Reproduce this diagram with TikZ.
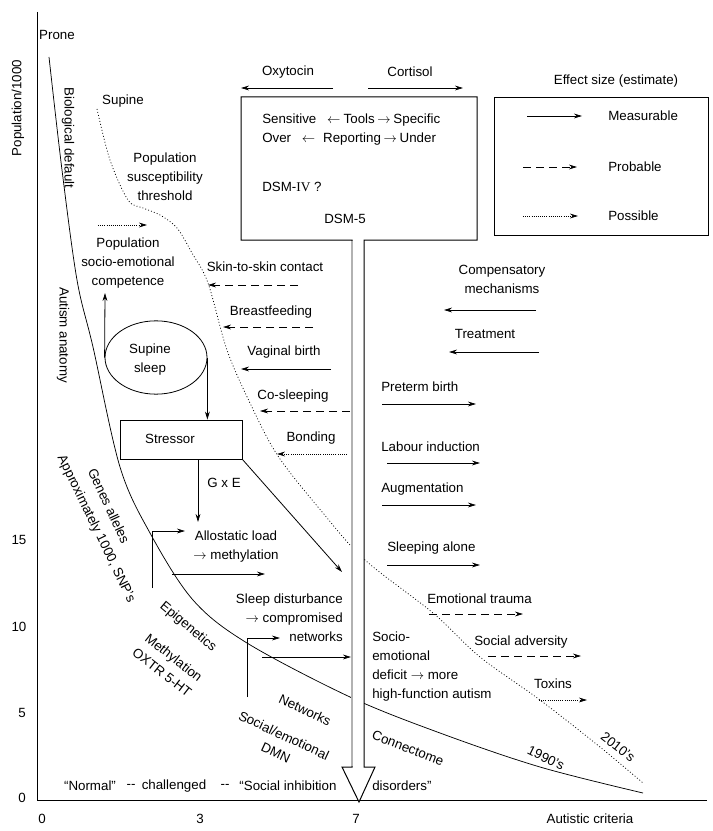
\documentclass[tikz,border=0pt]{standalone}
\usepackage{fontspec}
\setmainfont{Liberation Sans}
\newfontfamily\serifroman{Liberation Serif}
\usetikzlibrary{arrows.meta,shapes.geometric}
\newcommand{\ra}{$\rightarrow$}
\newcommand{\la}{$\leftarrow$}
\begin{document}
\begin{tikzpicture}[x=0.75pt,y=-0.75pt,
  font=\fontsize{10pt}{14.25pt}\selectfont,
  lbl/.style={inner sep=0pt, align=center},
  lw/.style={anchor=west, inner sep=0pt, align=left},
  ln/.style={line width=0.6pt},
  arr/.style={ln, -{Stealth[length=6pt,width=3.6pt]}},
  dsh/.style={arr, dash pattern=on 6pt off 3.75pt},
  dtt/.style={arr, dash pattern=on 0.7pt off 0.9pt},
  curve/.style={line width=0.55pt},
  dcurve/.style={line width=0.55pt, dash pattern=on 0.7pt off 1.6pt}]
\useasboundingbox (0,0) rectangle (713,831);

% axes
\coordinate (ytop) at (37,12);
\coordinate (orig) at (37,800);
\coordinate (xend) at (707,800);
\draw[line width=0.75pt] (ytop) -- (orig) -- (xend);

% curves
\draw[curve] plot[smooth, tension=0.55] coordinates {(49,57) (62,170) (77,280) (93,347) (120,467) (150,533) (193,600) (247,643) (350,697) (440,733) (540,767) (643,793)};
\draw[dcurve] plot[smooth, tension=0.55] coordinates {(97,109) (110,160) (128,200) (143,208) (160,215) (177,228) (192,253) (208,283) (227,350) (250,403) (278,456) (323,513) (365,560) (433,613) (480,657) (540,700) (600,747) (643,783)};

% big box with downward arrow
\draw[line width=0.75pt, fill=white] (241,97) -- (477,97) -- (477,240) -- (364,240) -- (364,767) -- (375,767) -- (359,802) -- (342,767) -- (352,767) -- (352,240) -- (241,240) -- cycle;
\draw[gray!60, line width=1.6pt] (352,241) -- (352,766);

% axis labels
\node[lbl] (prone) at (57,35) {Prone};
\node[lbl, rotate=90] (ylab) at (18,108) {Population/1000};
\node[lbl] (x0) at (42,819) {0};
\node[lbl] (x3) at (200,819) {3};
\node[lbl] (x7) at (356,819) {7};
\node[lbl] (xlab) at (590,819) {Autistic criteria};
\node[lbl] (y15) at (19,540) {15};
\node[lbl] (y10) at (19,627) {10};
\node[lbl] (y5) at (22,713) {5};
\node[lbl] (y0) at (22,798) {0};

% top box content
\node[lbl] (oxy) at (288,72) {Oxytocin};
\node[lbl] (cort) at (410,72) {Cortisol};
\coordinate (oxyA) at (333,88); \coordinate (oxyB) at (241,88);
\coordinate (cortA) at (368,88); \coordinate (cortB) at (463,88);
\draw[arr] (oxyA) -- (oxyB);
\draw[arr] (cortA) -- (cortB);
\node[lw] (tools) at (262,120) {Sensitive\hspace{0.8em}\la\hspace{0.25em}Tools\hspace{0.2em}\ra\hspace{0.2em}Specific};
\node[lw] (report) at (262,139) {Over\hspace{0.8em}\la\hspace{0.6em}Reporting\hspace{0.2em}\ra\hspace{0.2em}Under};
\node[lw] (dsm4) at (262,187) {DSM-{\serifroman IV} ?};
\node[lbl] (dsm5) at (345,219) {DSM-5};

% legend
\node[lbl] (efftitle) at (616,81) {Effect size (estimate)};
\draw[line width=0.75pt] (494,98) rectangle (708,235);
\coordinate (lgA1) at (527,116); \coordinate (lgB1) at (582,116);
\coordinate (lgA2) at (523,167); \coordinate (lgB2) at (577,167);
\coordinate (lgA3) at (523,216); \coordinate (lgB3) at (578,216);
\draw[arr] (lgA1) -- (lgB1);
\draw[dsh] (lgA2) -- (lgB2);
\draw[dtt] (lgA3) -- (lgB3);
\node[lw] (meas) at (608,116) {Measurable};
\node[lw] (prob) at (608,167) {Probable};
\node[lw] (poss) at (608,216) {Possible};

% left labels
\node[lbl, rotate=-90] (biodef) at (68,138) {Biological default};
\node[lbl, rotate=-90] (autanat) at (63,335) {Autism anatomy};
\node[lbl, rotate=-65] (genes) at (109,506) {Genes alleles};
\node[lbl, rotate=-64] (approx) at (96,529) {Approximately 1000, SNP's};
\node[lbl] (supine) at (123,101) {Supine};
\node[lbl] (thresh) at (165,177) {Population\\susceptibility\\threshold};
\coordinate (popA) at (98,225); \coordinate (popB) at (147,225);
\draw[dtt] (popA) -- (popB);
\node[lbl] (compet) at (128,263) {Population\\socio-emotional\\competence};

% supine sleep and stressor
\node[draw, ln, ellipse, minimum width=76.5pt, minimum height=55pt, inner sep=0pt] (sleep) at (156,357.5) {};
\node[lbl] (sleeptxt) at (150,360) {Supine\\sleep};
\coordinate (compTop) at (105,293);
\draw[arr] (sleep.west) -- (compTop);
\node[draw, ln, minimum width=91.5pt, minimum height=29.25pt, inner sep=0pt] (stressor) at (181,439.5) {};
\node[lbl] (stresstxt) at (170,439) {Stressor};
\draw[arr] (sleep.east) -- (sleep.east |- stressor.north);
\coordinate (gxe) at (198,522);
\draw[arr] (gxe |- stressor.south) -- (gxe);
\node[lbl] (gxetxt) at (224,483) {G x E};
\coordinate (diagEnd) at (342,572);
\draw[arr] (stressor.south east) -- (diagEnd);

\node[lbl] (allo) at (236,546.5) {Allostatic load\\\ra\ methylation};
\coordinate (e1a) at (152,588); \coordinate (e1b) at (185,531);
\draw[arr] (e1a) |- (e1b);
\coordinate (s1a) at (172,574); \coordinate (s1b) at (265,574);
\draw[arr] (s1a) -- (s1b);

\node[anchor=east, inner sep=0pt, align=right] (sleepdist) at (343,618) {Sleep disturbance\\\ra\ compromised\\networks};
\coordinate (e2a) at (247,697); \coordinate (e2b) at (280,638);
\draw[arr] (e2a) |- (e2b);
\coordinate (s2a) at (262,657); \coordinate (s2b) at (351,657);
\draw[arr] (s2a) -- (s2b);

\node[lbl, rotate=-40] (epi) at (188,627) {Epigenetics};
\node[lbl, rotate=-38] (methyl) at (168,665) {Methylation\\OXTR 5-HT};
\node[lbl, rotate=-25] (netw) at (305,710) {Networks};
\node[lbl, rotate=-25] (socdmn) at (280,744) {Social/emotional\\DMN};

% bottom line
\node[lbl] (normal) at (90,786) {“Normal”};
\node[lbl] (dash1) at (131,786) {-{}-};
\node[lbl] (chall) at (174,786) {challenged};
\node[lbl] (dash2) at (225,786) {-{}-};
\node[lbl] (socinh) at (288,786) {“Social inhibition};
\node[lw] (disord) at (372,786) {disorders”};

% protective factors (left-pointing)
\node[lbl] (skin) at (265,267) {Skin-to-skin contact};
\coordinate (skinA) at (298,285); \coordinate (skinB) at (208,285);
\draw[dsh] (skinA) -- (skinB);
\node[lbl] (breast) at (271,312) {Breastfeeding};
\coordinate (brA) at (313,327); \coordinate (brB) at (223,327);
\draw[dsh] (brA) -- (brB);
\node[lbl] (vag) at (284,352) {Vaginal birth};
\coordinate (vgA) at (331,369); \coordinate (vgB) at (241,369);
\draw[arr] (vgA) -- (vgB);
\node[lbl] (cosl) at (293,396) {Co-sleeping};
\coordinate (csA) at (350,411); \coordinate (csB) at (260,411);
\draw[dsh] (csA) -- (csB);
\node[lbl] (bond) at (311,438) {Bonding};
\coordinate (bdA) at (347,454); \coordinate (bdB) at (277,454);
\draw[dtt] (bdA) -- (bdB);

% right side
\node[lbl] (compens) at (502,279) {Compensatory\\mechanisms};
\coordinate (cmA) at (536,310); \coordinate (cmB) at (444,310);
\draw[arr] (cmA) -- (cmB);
\node[lbl] (treat) at (485,334) {Treatment};
\coordinate (trA) at (539,352); \coordinate (trB) at (449,352);
\draw[arr] (trA) -- (trB);
\node[lw] (preterm) at (381,387) {Preterm birth};
\coordinate (ptA) at (382,404); \coordinate (ptB) at (476,404);
\draw[arr] (ptA) -- (ptB);
\node[lw] (labour) at (381,447) {Labour induction};
\coordinate (lbA) at (387,463); \coordinate (lbB) at (480,463);
\draw[arr] (lbA) -- (lbB);
\node[lw] (augm) at (381,489) {Augmentation};
\coordinate (agA) at (382,505); \coordinate (agB) at (476,505);
\draw[arr] (agA) -- (agB);
\node[lw] (alone) at (387,548) {Sleeping alone};
\coordinate (slA) at (387,565); \coordinate (slB) at (480,565);
\draw[arr] (slA) -- (slB);
\node[lw] (emot) at (427,599) {Emotional trauma};
\coordinate (etA) at (429,614); \coordinate (etB) at (523,614);
\draw[dsh] (etA) -- (etB);
\node[lw] (socadv) at (474,642) {Social adversity};
\coordinate (saA) at (488,656); \coordinate (saB) at (581,656);
\draw[dsh] (saA) -- (saB);
\node[lbl] (toxins) at (553,684) {Toxins};
\coordinate (txA) at (539,700); \coordinate (txB) at (587,700);
\draw[dtt] (txA) -- (txB);
\node[lw] (deficit) at (372,667) {Socio-\\emotional\\deficit \ra\ more\\high-function autism};

\node[lbl, rotate=-21] (connect) at (408,748) {Connectome};
\node[lbl, rotate=-26] (y1990) at (546,758) {1990's};
\node[lbl, rotate=-38] (y2010) at (618,747) {2010's};
\end{tikzpicture}
\end{document}
